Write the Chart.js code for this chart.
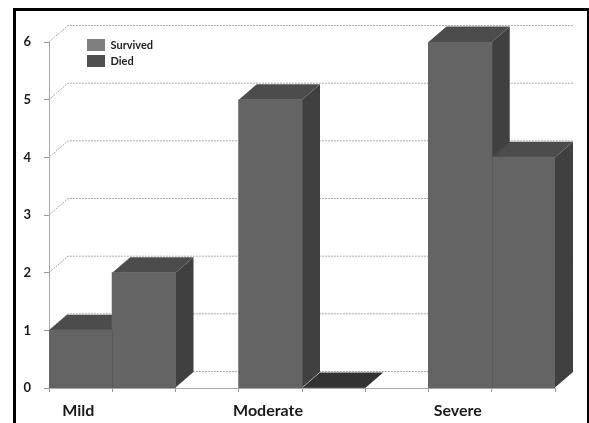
<!DOCTYPE html>
<html>
<head>
<meta charset="utf-8">
<style>
  html, body { margin: 0; padding: 0; background: #fff; overflow: hidden; }
  #frame { position: absolute; left: 13px; top: 8px; width: 571px; height: 415px; border: 3px solid #000; border-bottom: 0; }
  #chart1 { position: absolute; left: 0; top: 0; }
</style>
</head>
<body>
<div id="frame"></div>
<canvas id="chart1" width="589" height="423"></canvas>
<script src="https://cdn.jsdelivr.net/npm/chart.js@4"></script>
<script>
const categories = ['Mild', 'Moderate', 'Severe'];
const survived = [1, 5, 6];
const died = [2, 0, 4];
const yTicks = [0, 1, 2, 3, 4, 5, 6];
const legendColors = ['#7f7f7f', '#4f4f4f'];

// each category takes 3 bar widths on the x axis (2 bars + gap)
const slots = 3;
const slotCenter = (i) => i * slots + 1;
const toPoints = (values) => values.map((v, i) => ({ x: slotCenter(i), y: v }));

// fake 3D depth in pixels
const wallDepth = { x: 19, y: 16.5 };
const barDepth = { x: 18, y: 15.5 };

function quad(ctx, pts, color) {
    ctx.fillStyle = color;
    ctx.beginPath();
    pts.forEach((p, i) => (i ? ctx.lineTo(p[0], p[1]) : ctx.moveTo(p[0], p[1])));
    ctx.closePath();
    ctx.fill();
}

// back wall grid, side wall diagonals and the top/side faces of the bars
const depthPlugin = {
    id: 'depthPlugin',
    beforeDatasetsDraw(chart) {
        const ctx = chart.ctx;
        const area = chart.chartArea;
        const yScale = chart.scales.y;
        ctx.save();
        ctx.strokeStyle = '#a8a8a8';
        ctx.lineWidth = 1;
        ctx.setLineDash([2, 1]);
        yTicks.forEach((t) => {
            const py = yScale.getPixelForValue(t);
            ctx.beginPath();
            ctx.moveTo(area.left, py);
            ctx.lineTo(area.left + wallDepth.x, py - wallDepth.y);
            ctx.lineTo(area.right + wallDepth.x, py - wallDepth.y);
            ctx.stroke();
        });
        ctx.setLineDash([]);
        chart.data.datasets.forEach((ds, d) => {
            chart.getDatasetMeta(d).data.forEach((bar) => {
                const l = bar.x - bar.width / 2;
                const r = bar.x + bar.width / 2;
                const top = bar.y;
                const base = bar.base;
                const flat = top === base;
                quad(ctx, [[r, top], [r + barDepth.x, top - barDepth.y], [r + barDepth.x, base - barDepth.y], [r, base]], '#404040');
                quad(ctx, [[l, top], [l + barDepth.x, top - barDepth.y], [r + barDepth.x, top - barDepth.y], [r, top]], flat ? '#333333' : '#4c4c4c');
            });
        });
        ctx.restore();
    },
    // thin darker seam where the two front faces touch
    afterDatasetsDraw(chart) {
        const ctx = chart.ctx;
        const diedBars = chart.getDatasetMeta(1).data;
        ctx.save();
        ctx.strokeStyle = '#595959';
        ctx.lineWidth = 1;
        chart.getDatasetMeta(0).data.forEach((bar, i) => {
            const other = diedBars[i];
            if (other.y === other.base) return;
            const sx = Math.round(other.x - other.width / 2) + 0.5;
            ctx.beginPath();
            ctx.moveTo(sx, Math.max(bar.y, other.y));
            ctx.lineTo(sx, bar.base);
            ctx.stroke();
        });
        ctx.restore();
    }
};

// the legend sits over the plot, near its top left corner
const legendSpot = {
    id: 'legendSpot',
    afterLayout(chart) {
        const legend = chart.legend;
        legend.left = 83;
        legend.top = 35;
    }
};

const chartConfig = {
    type: 'bar',
    data: {
        datasets: [
            { label: 'Survived', data: toPoints(survived), backgroundColor: '#646464', borderWidth: 0, inflateAmount: 0.5 },
            { label: 'Died', data: toPoints(died), backgroundColor: '#646464', borderWidth: 0, inflateAmount: 0.5 }
        ]
    },
    options: {
        responsive: false,
        animation: false,
        layout: { padding: { top: 42, right: 34, bottom: 0, left: 0 } },
        datasets: { bar: { categoryPercentage: 2, barPercentage: 1 } },
        plugins: {
            title: { display: false },
            tooltip: { enabled: false },
            legend: {
                position: 'chartArea',
                align: 'start',
                labels: {
                    boxWidth: 18,
                    boxHeight: 12,
                    padding: 4,
                    color: '#222',
                    font: { family: 'Lato', size: 11, weight: 'bold' },
                    generateLabels(chart) {
                        return chart.data.datasets.map((ds, i) => ({
                            text: ds.label,
                            fillStyle: legendColors[i],
                            strokeStyle: legendColors[i],
                            lineWidth: 0,
                            fontColor: '#222',
                            datasetIndex: i
                        }));
                    }
                }
            }
        },
        scales: {
            x: {
                type: 'linear',
                offset: false,
                min: 0,
                max: categories.length * slots - 1,
                afterFit(scale) { scale.height = 35; },
                grid: { offset: false, drawOnChartArea: false, color: '#999', tickLength: 4 },
                border: { color: '#a8a8a8', dash: [2, 1] },
                ticks: {
                    stepSize: 1,
                    autoSkip: false,
                    maxRotation: 0,
                    labelOffset: -34,
                    padding: 9,
                    color: '#1a1a1a',
                    font: { family: 'Lato', size: 16, weight: 'bold' },
                    callback(v) {
                        const i = (v - 1) / slots;
                        return Number.isInteger(i) ? categories[i] : '';
                    }
                }
            },
            y: {
                min: 0,
                max: 6,
                afterFit(scale) { scale.width = 49; },
                grid: { drawOnChartArea: false, color: '#999', tickLength: 5 },
                border: { color: '#a8a8a8', dash: [2, 1] },
                ticks: {
                    stepSize: 1,
                    padding: 13,
                    color: '#1a1a1a',
                    font: { family: 'Lato', size: 13, weight: 'bold' }
                }
            }
        }
    },
    plugins: [depthPlugin, legendSpot]
};

var chart1Chart = new Chart(document.getElementById('chart1'), chartConfig);
</script>
</body>
</html>
